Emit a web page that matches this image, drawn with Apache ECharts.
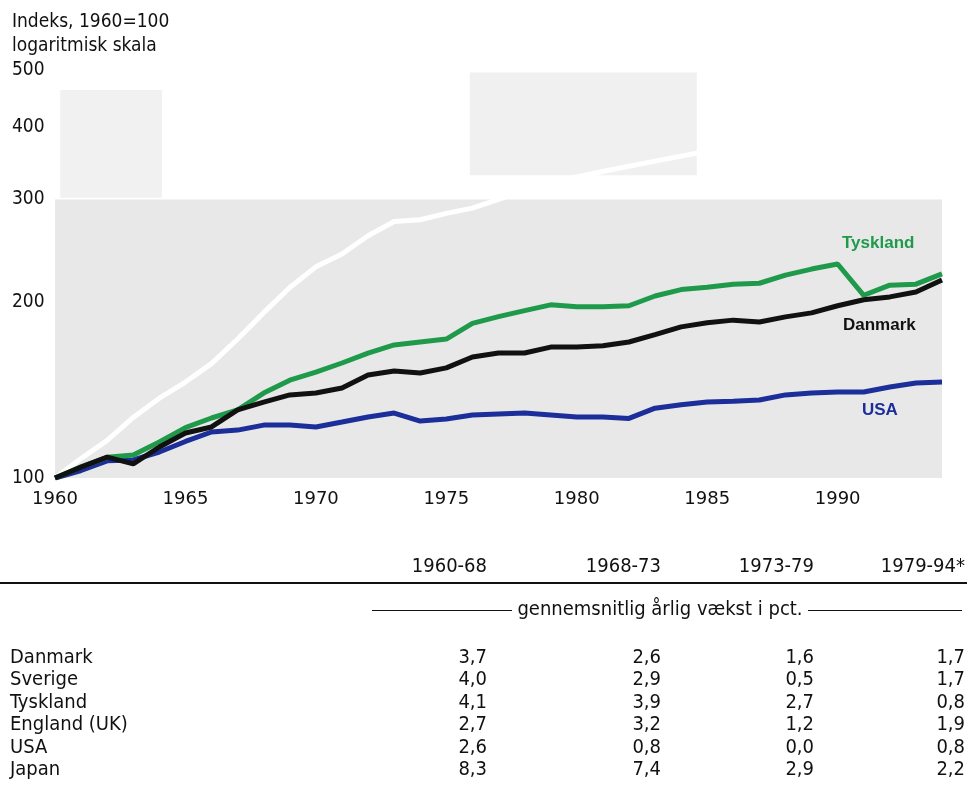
<!DOCTYPE html>
<html>
<head>
<meta charset="utf-8">
<script src="https://cdn.jsdelivr.net/npm/echarts@6/dist/echarts.min.js"></script>
<style>
  html, body { margin: 0; padding: 0; background: #fff; }
  #chart { width: 967px; height: 798px; }
</style>
</head>
<body>
<div id="chart"></div>
<script>
// indeks, 1960=100
const years = [1960, 1961, 1962, 1963, 1964, 1965, 1966, 1967, 1968, 1969,
  1970, 1971, 1972, 1973, 1974, 1975, 1976, 1977, 1978, 1979,
  1980, 1981, 1982, 1983, 1984, 1985, 1986, 1987, 1988, 1989,
  1990, 1991, 1992, 1993, 1994];
const tyskland = [100, 104.5, 108.5, 109.5, 115.3, 122, 126.7, 130.8, 139.8, 147.1,
  151.9, 157.4, 163.7, 169, 171, 173, 184, 189, 193.5, 198,
  196.5, 196.5, 197.3, 205, 210.3, 212.3, 214.8, 215.6, 222.6, 228,
  232.6, 205.6, 214, 214.8, 223.7];
const danmark = [100, 104.4, 108.6, 105.7, 113, 119.4, 122.3, 130.8, 134.9, 138.8,
  139.8, 142.6, 150.1, 152.5, 151.3, 154.4, 161.2, 163.7, 163.7, 167.6,
  167.6, 168.5, 171, 176, 181.5, 184.5, 186.4, 185, 188.8, 191.8,
  197.3, 202, 204.3, 208.3, 218.4];
const usa = [100, 103, 107, 107.4, 110.8, 115.5, 119.9, 120.8, 123.2, 123.2,
  122.3, 124.7, 127.2, 129.2, 125.2, 126.2, 128.2, 128.7, 129.2, 128.2,
  127.2, 127.2, 126.5, 131.7, 133.5, 134.9, 135.4, 136, 138.8, 139.8,
  140.4, 140.4, 143.2, 145.5, 146];
// hvid linje (Japan), kun til 1985
const japan = [100, 108, 116, 127, 137, 146, 157, 173, 192, 212,
  230, 242, 260, 275, 277, 284, 290, 300, 311, 322,
  328, 335, 342, 349, 356, 363];
const yTicks = [100, 200, 300, 400, 500];

// tabel
const periods = ['1960-68', '1968-73', '1973-79', '1979-94*'];
const countries = ['Danmark', 'Sverige', 'Tyskland', 'England (UK)', 'USA', 'Japan'];
const g6068 = [3.7, 4.0, 4.1, 2.7, 2.6, 8.3];
const g6873 = [2.6, 2.9, 3.9, 3.2, 0.8, 7.4];
const g7379 = [1.6, 0.5, 2.7, 1.2, 0.0, 2.9];
const g7994 = [1.7, 1.7, 0.8, 1.9, 0.8, 2.2];

const FONT = '"DejaVu Sans Condensed", "Liberation Sans Narrow", sans-serif';
const LABEL_FONT = 'bold 17px "Liberation Sans", sans-serif';
const pairs = (vals) => vals.map((v, i) => [years[i], v]);
const fmt = (v) => v.toFixed(1).replace('.', ',');

const chart = echarts.init(document.getElementById('chart'));

// tabel som tekst-elementer
const colX = [487, 661, 814, 965];
const rowY = [658, 680, 703, 725, 748, 770];
const tableCols = [g6068, g6873, g7379, g7994];
const graphics = [
  {type: 'text', x: 12, y: 22, style: {text: 'Indeks, 1960=100', font: '19px ' + FONT, fill: '#111', verticalAlign: 'middle'}},
  {type: 'text', x: 12, y: 46, style: {text: 'logaritmisk skala', font: '19px ' + FONT, fill: '#111', verticalAlign: 'middle'}},
  // navne ved linjerne
  {type: 'text', z: 100, x: 842, y: 243, style: {text: 'Tyskland', font: LABEL_FONT, fill: '#1f9a4a', verticalAlign: 'middle'}},
  {type: 'text', z: 100, x: 843, y: 325, style: {text: 'Danmark', font: LABEL_FONT, fill: '#111', verticalAlign: 'middle'}},
  {type: 'text', z: 100, x: 862, y: 410, style: {text: 'USA', font: LABEL_FONT, fill: '#1b2e9a', verticalAlign: 'middle'}},
  {type: 'line', shape: {x1: 0, y1: 583, x2: 967, y2: 583}, style: {stroke: '#111', lineWidth: 2}},
  {type: 'line', shape: {x1: 372, y1: 610.5, x2: 512, y2: 610.5}, style: {stroke: '#111', lineWidth: 1}},
  {type: 'line', shape: {x1: 808, y1: 610.5, x2: 962, y2: 610.5}, style: {stroke: '#111', lineWidth: 1}},
  {type: 'text', x: 660, y: 610, style: {text: 'gennemsnitlig årlig vækst i pct.', font: '20px ' + FONT, fill: '#111', align: 'center', verticalAlign: 'middle'}}
];
periods.forEach((p, j) => {
  graphics.push({type: 'text', x: colX[j], y: 567, style: {text: p, font: '20px ' + FONT, fill: '#111', align: 'right', verticalAlign: 'middle'}});
});
countries.forEach((c, i) => {
  graphics.push({type: 'text', x: 10, y: rowY[i], style: {text: c, font: '20px ' + FONT, fill: '#111', verticalAlign: 'middle'}});
  tableCols.forEach((col, j) => {
    graphics.push({type: 'text', x: colX[j], y: rowY[i], style: {text: fmt(col[i]), font: '20px ' + FONT, fill: '#111', align: 'right', verticalAlign: 'middle'}});
  });
});

const option = {
  animation: false,
  backgroundColor: '#fff',
  grid: {left: 55, top: 70, width: 887, height: 408},
  xAxis: {
    type: 'value', min: 1960, max: 1994, interval: 5,
    axisLine: {show: false}, axisTick: {show: false}, splitLine: {show: false},
    axisLabel: {
      fontSize: 18, color: '#111', fontFamily: '"DejaVu Sans", sans-serif', margin: 12,
      showMaxLabel: false,
      formatter: (v) => (v % 5 === 0 ? String(v) : '')
    }
  },
  yAxis: {
    type: 'log', logBase: 10, min: 100, max: 500,
    axisLine: {show: false}, axisTick: {show: false}, splitLine: {show: false},
    axisLabel: {customValues: yTicks, fontSize: 19, color: '#111', fontFamily: FONT, align: 'left', margin: 43}
  },
  graphic: graphics,
  series: [
    {
      name: 'Japan', type: 'line', data: pairs(japan), symbol: 'none',
      lineStyle: {color: '#ffffff', width: 5}, z: 2,
      markArea: {
        silent: true,
        data: [
          [{xAxis: 1960, yAxis: 100, itemStyle: {color: '#e8e8e8'}}, {xAxis: 1994, yAxis: 300}],
          [{xAxis: 1960.2, yAxis: 302, itemStyle: {color: '#f1f1f1'}}, {xAxis: 1964.1, yAxis: 462}],
          [{xAxis: 1975.9, yAxis: 330, itemStyle: {color: '#f0f0f0'}}, {xAxis: 1984.6, yAxis: 495}]
        ]
      }
    },
    {name: 'USA', type: 'line', data: pairs(usa), symbol: 'none', lineStyle: {color: '#1b2e9a', width: 5}, z: 3},
    {name: 'Tyskland', type: 'line', data: pairs(tyskland), symbol: 'none', lineStyle: {color: '#1f9a4a', width: 5}, z: 4},
    {name: 'Danmark', type: 'line', data: pairs(danmark), symbol: 'none', lineStyle: {color: '#111111', width: 5}, z: 5}
  ]
};
chart.setOption(option);
</script>
</body>
</html>
